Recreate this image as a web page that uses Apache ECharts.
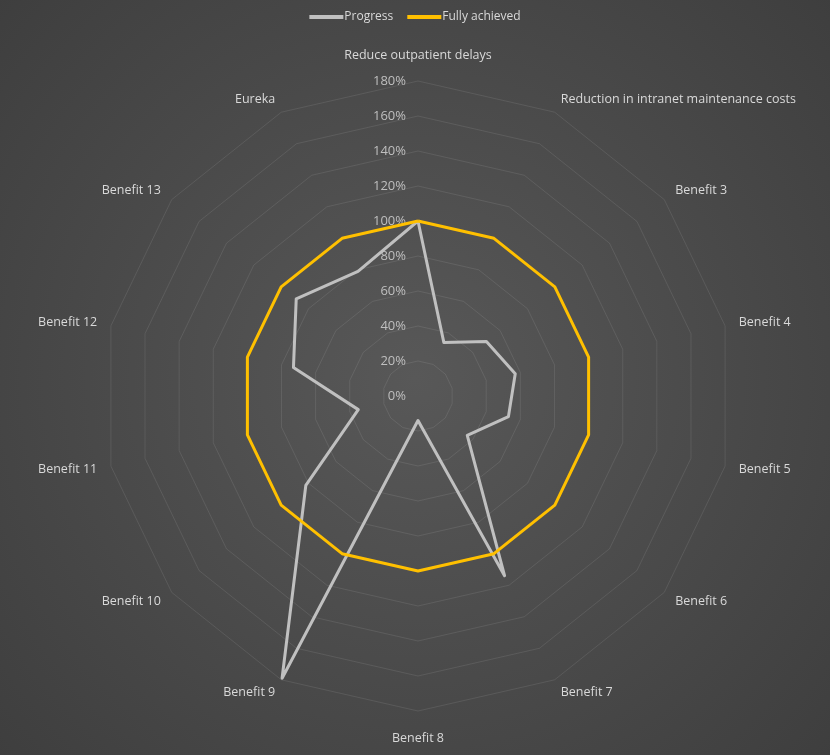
<!DOCTYPE html>
<html>
<head>
<meta charset="utf-8">
<script src="https://cdn.jsdelivr.net/npm/echarts@6/dist/echarts.min.js"></script>
<style>
  html, body { margin: 0; padding: 0; background: #404040; }
  #chart { width: 830px; height: 755px; }
</style>
</head>
<body>
<div id="chart"></div>
<script>
// benefits, clockwise from the top
const benefits = [
  "Reduce outpatient delays",
  "Reduction in intranet maintenance costs",
  "Benefit 3", "Benefit 4", "Benefit 5", "Benefit 6", "Benefit 7",
  "Benefit 8", "Benefit 9", "Benefit 10", "Benefit 11", "Benefit 12",
  "Benefit 13", "Eureka"
];
const progress = [100, 34, 50, 57, 53, 36, 114, 14, 179, 82, 35, 73, 89, 79];
const fullyAchieved = [100, 100, 100, 100, 100, 100, 100, 100, 100, 100, 100, 100, 100, 100];
const seriesNames = ["Progress", "Fully achieved"];
const axisMax = 180;

// echarts lays indicators out counter-clockwise, so flip everything after the first
const reorder = (arr) => [arr[0]].concat(arr.slice(1).reverse());

const chart = echarts.init(document.getElementById("chart"));

const indicators = reorder(benefits).map(function (name, i) {
  const ind = { name: name, min: 0, max: axisMax };
  if (i === 0) {
    // only the top spoke carries the % labels
    ind.axisLabel = { show: true };
    ind.nameGap = 19;
  }
  if (name === "Benefit 8") {
    ind.nameGap = 21;
  }
  return ind;
});

const option = {
  backgroundColor: {
    type: "radial",
    x: 0.5, y: 0.5, r: 0.75,
    colorStops: [
      { offset: 0, color: "#585858" },
      { offset: 1, color: "#3e3e3e" }
    ]
  },
  textStyle: { fontFamily: "Open Sans" },
  legend: {
    top: 6,
    left: "center",
    icon: "rect",
    itemWidth: 34,
    itemHeight: 4,
    itemGap: 14,
    textStyle: { color: "#d9d9d9", fontSize: 12, padding: [0, 0, 0, -4] },
    data: seriesNames
  },
  radar: {
    center: [418, 396],
    radius: 315,
    startAngle: 90,
    shape: "polygon",
    splitNumber: 9,
    indicator: indicators,
    axisName: { color: "#d9d9d9", fontSize: 12.5 },
    nameGap: 14,
    axisLine: { show: false },
    axisTick: { show: false },
    splitArea: { show: false },
    splitLine: { lineStyle: { color: "rgba(255,255,255,0.09)", width: 1 } },
    axisLabel: {
      show: false,
      color: "#bfbfbf",
      fontSize: 13,
      margin: 12,
      formatter: "{value}%"
    }
  },
  series: [
    {
      type: "radar",
      symbol: "none",
      silent: true,
      data: [
        {
          name: seriesNames[0],
          value: reorder(progress),
          lineStyle: { color: "#c0c0c0", width: 3 },
          itemStyle: { color: "#c0c0c0" }
        },
        {
          name: seriesNames[1],
          value: reorder(fullyAchieved),
          lineStyle: { color: "#ffc000", width: 3 },
          itemStyle: { color: "#ffc000" }
        }
      ]
    }
  ]
};

chart.setOption(option);
</script>
</body>
</html>
